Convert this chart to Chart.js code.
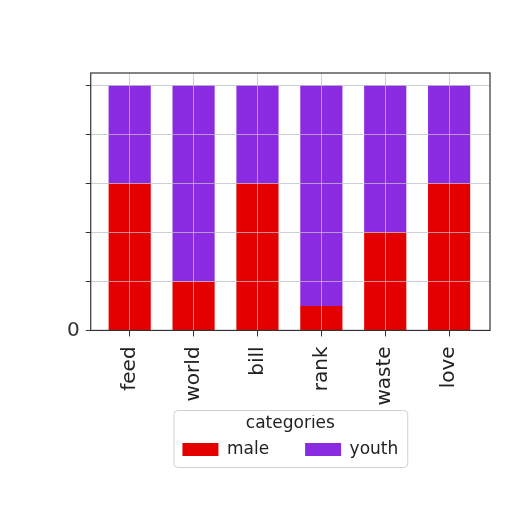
<!DOCTYPE html>
<html lang="en">
<head>
    <meta charset="UTF-8">
    <title>categories</title>
    <style>
        html, body { margin: 0; padding: 0; background: #fff; }
        #wrap { width: 512px; height: 512px; }
    </style>
</head>
<body>
    <div id="wrap"><canvas id="chart"></canvas></div>
    <script src="https://cdn.jsdelivr.net/npm/chart.js@4"></script>
    <script>
        const labels = ['feed', 'world', 'bill', 'rank', 'waste', 'love'];
        const male = [60, 20, 60, 10, 40, 60];
        const youth = [40, 80, 40, 90, 60, 40];
        const yTicks = [0, 20, 40, 60, 80, 100];

        const tickFont = { family: 'DejaVu Sans', size: 20 };
        const legendFont = { family: 'DejaVu Sans', size: 17 };
        const gridColor = 'rgba(190,190,200,0.75)';
        const positions = labels.map((_, i) => i);

        // box around plot and legend, like matplotlib frames
        const frames = {
            id: 'frames',
            afterDraw(chart) {
                const ctx = chart.ctx;
                const a = chart.chartArea;
                ctx.save();
                ctx.strokeStyle = '#333';
                ctx.lineWidth = 1.2;
                ctx.strokeRect(a.left, a.top, a.right - a.left, a.bottom - a.top);
                const lg = chart.legend;
                const hb = lg.legendHitBoxes;
                if (hb && hb.length) {
                    const l = hb[0].left - 9;
                    const r = hb[hb.length - 1].left + hb[hb.length - 1].width + 9;
                    const b = hb[0].top + hb[0].height + 9;
                    const t = b - 57;
                    ctx.strokeStyle = '#d0d0d0';
                    ctx.lineWidth = 1;
                    ctx.beginPath();
                    ctx.roundRect(l + 0.5, t + 0.5, r - l, b - t, 4);
                    ctx.stroke();
                }
                ctx.restore();
            }
        };

        new Chart(document.getElementById('chart'), {
            type: 'bar',
            data: {
                labels: positions,
                datasets: [
                    { label: 'male', data: male, backgroundColor: '#e50000' },
                    { label: 'youth', data: youth, backgroundColor: '#8a2be2' }
                ]
            },
            options: {
                responsive: true,
                maintainAspectRatio: false,
                animation: false,
                barPercentage: 0.66,
                categoryPercentage: 1,
                layout: { padding: { top: 73, right: 22, left: 61, bottom: 44 } },
                scales: {
                    x: {
                        type: 'linear',
                        stacked: true,
                        offset: false,
                        min: -0.61,
                        max: 5.64,
                        grid: { offset: false, color: gridColor, tickLength: 6, tickColor: '#333', z: 1 },
                        border: { display: false },
                        afterBuildTicks: (scale) => { scale.ticks = positions.map(v => ({ value: v })); },
                        ticks: {
                            font: tickFont, color: '#222', maxRotation: 90, minRotation: 90, padding: 10,
                            callback: (v) => labels[v]
                        }
                    },
                    y: {
                        stacked: true,
                        min: 0,
                        max: 105,
                        grid: { color: gridColor, tickLength: 5, tickColor: '#333', z: 1 },
                        border: { display: false },
                        afterBuildTicks: (scale) => { scale.ticks = yTicks.map(v => ({ value: v })); },
                        ticks: {
                            font: tickFont,
                            color: '#333',
                            padding: 6,
                            callback: (v) => v === 0 ? '0' : ''
                        }
                    }
                },
                plugins: {
                    tooltip: { enabled: false },
                    legend: {
                        position: 'bottom',
                        fullSize: false,
                        title: { display: true, text: 'categories', font: legendFont, color: '#222', padding: { top: -1, bottom: -30 } },
                        labels: { font: legendFont, color: '#222', boxWidth: 36, boxHeight: 13, padding: 36 }
                    }
                }
            },
            plugins: [frames]
        });
    </script>
</body>
</html>
